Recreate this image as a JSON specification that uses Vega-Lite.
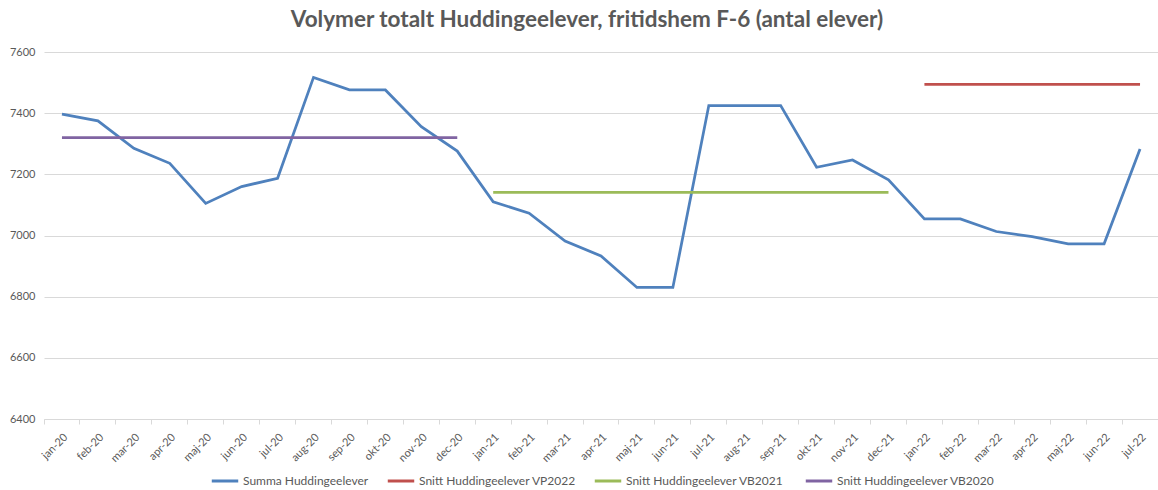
{
  "$schema": "https://vega.github.io/schema/vega-lite/v6.json",
  "width": 1114,
  "height": 367,
  "autosize": {"type": "none"},
  "padding": {"left": 44, "top": 52, "right": 0, "bottom": 71},
  "background": "white",
  "title": {"text": "Volymer totalt Huddingeelever, fritidshem F-6 (antal elever)", "font": "Lato", "fontSize": 22.5, "fontWeight": "bold", "color": "#595959", "offset": 15, "dx": -14},
  "data": {"values": [
    {"m": "jan-20", "s": "Summa Huddingeelever", "v": 7397},
    {"m": "feb-20", "s": "Summa Huddingeelever", "v": 7375},
    {"m": "mar-20", "s": "Summa Huddingeelever", "v": 7285},
    {"m": "apr-20", "s": "Summa Huddingeelever", "v": 7236},
    {"m": "maj-20", "s": "Summa Huddingeelever", "v": 7105},
    {"m": "jun-20", "s": "Summa Huddingeelever", "v": 7160},
    {"m": "jul-20", "s": "Summa Huddingeelever", "v": 7187},
    {"m": "aug-20", "s": "Summa Huddingeelever", "v": 7517},
    {"m": "sep-20", "s": "Summa Huddingeelever", "v": 7476},
    {"m": "okt-20", "s": "Summa Huddingeelever", "v": 7476},
    {"m": "nov-20", "s": "Summa Huddingeelever", "v": 7356},
    {"m": "dec-20", "s": "Summa Huddingeelever", "v": 7276},
    {"m": "jan-21", "s": "Summa Huddingeelever", "v": 7110},
    {"m": "feb-21", "s": "Summa Huddingeelever", "v": 7073},
    {"m": "mar-21", "s": "Summa Huddingeelever", "v": 6982},
    {"m": "apr-21", "s": "Summa Huddingeelever", "v": 6933},
    {"m": "maj-21", "s": "Summa Huddingeelever", "v": 6830},
    {"m": "jun-21", "s": "Summa Huddingeelever", "v": 6830},
    {"m": "jul-21", "s": "Summa Huddingeelever", "v": 7425},
    {"m": "aug-21", "s": "Summa Huddingeelever", "v": 7425},
    {"m": "sep-21", "s": "Summa Huddingeelever", "v": 7425},
    {"m": "okt-21", "s": "Summa Huddingeelever", "v": 7223},
    {"m": "nov-21", "s": "Summa Huddingeelever", "v": 7247},
    {"m": "dec-21", "s": "Summa Huddingeelever", "v": 7182},
    {"m": "jan-22", "s": "Summa Huddingeelever", "v": 7054},
    {"m": "feb-22", "s": "Summa Huddingeelever", "v": 7054},
    {"m": "mar-22", "s": "Summa Huddingeelever", "v": 7013},
    {"m": "apr-22", "s": "Summa Huddingeelever", "v": 6996},
    {"m": "maj-22", "s": "Summa Huddingeelever", "v": 6973},
    {"m": "jun-22", "s": "Summa Huddingeelever", "v": 6973},
    {"m": "jul-22", "s": "Summa Huddingeelever", "v": 7283},
    {"m": "jan-22", "s": "Snitt Huddingeelever VP2022", "v": 7494},
    {"m": "feb-22", "s": "Snitt Huddingeelever VP2022", "v": 7494},
    {"m": "mar-22", "s": "Snitt Huddingeelever VP2022", "v": 7494},
    {"m": "apr-22", "s": "Snitt Huddingeelever VP2022", "v": 7494},
    {"m": "maj-22", "s": "Snitt Huddingeelever VP2022", "v": 7494},
    {"m": "jun-22", "s": "Snitt Huddingeelever VP2022", "v": 7494},
    {"m": "jul-22", "s": "Snitt Huddingeelever VP2022", "v": 7494},
    {"m": "jan-21", "s": "Snitt  Huddingeelever VB2021", "v": 7141},
    {"m": "feb-21", "s": "Snitt  Huddingeelever VB2021", "v": 7141},
    {"m": "mar-21", "s": "Snitt  Huddingeelever VB2021", "v": 7141},
    {"m": "apr-21", "s": "Snitt  Huddingeelever VB2021", "v": 7141},
    {"m": "maj-21", "s": "Snitt  Huddingeelever VB2021", "v": 7141},
    {"m": "jun-21", "s": "Snitt  Huddingeelever VB2021", "v": 7141},
    {"m": "jul-21", "s": "Snitt  Huddingeelever VB2021", "v": 7141},
    {"m": "aug-21", "s": "Snitt  Huddingeelever VB2021", "v": 7141},
    {"m": "sep-21", "s": "Snitt  Huddingeelever VB2021", "v": 7141},
    {"m": "okt-21", "s": "Snitt  Huddingeelever VB2021", "v": 7141},
    {"m": "nov-21", "s": "Snitt  Huddingeelever VB2021", "v": 7141},
    {"m": "dec-21", "s": "Snitt  Huddingeelever VB2021", "v": 7141},
    {"m": "jan-20", "s": "Snitt Huddingeelever VB2020", "v": 7320},
    {"m": "feb-20", "s": "Snitt Huddingeelever VB2020", "v": 7320},
    {"m": "mar-20", "s": "Snitt Huddingeelever VB2020", "v": 7320},
    {"m": "apr-20", "s": "Snitt Huddingeelever VB2020", "v": 7320},
    {"m": "maj-20", "s": "Snitt Huddingeelever VB2020", "v": 7320},
    {"m": "jun-20", "s": "Snitt Huddingeelever VB2020", "v": 7320},
    {"m": "jul-20", "s": "Snitt Huddingeelever VB2020", "v": 7320},
    {"m": "aug-20", "s": "Snitt Huddingeelever VB2020", "v": 7320},
    {"m": "sep-20", "s": "Snitt Huddingeelever VB2020", "v": 7320},
    {"m": "okt-20", "s": "Snitt Huddingeelever VB2020", "v": 7320},
    {"m": "nov-20", "s": "Snitt Huddingeelever VB2020", "v": 7320},
    {"m": "dec-20", "s": "Snitt Huddingeelever VB2020", "v": 7320}
  ]},
  "mark": {"type": "line", "strokeWidth": 2.75},
  "encoding": {
    "x": {
      "field": "m", "type": "ordinal", "sort": null,
      "scale": {"type": "band", "paddingInner": 0, "paddingOuter": 0},
      "axis": {"title": null, "labelAngle": -45, "bandPosition": 0, "grid": false,
        "domainColor": "#D9D9D9", "tickColor": "#D9D9D9", "tickSize": 5, "labelPadding": 7,
        "labelFont": "Lato", "labelFontSize": 11, "labelColor": "#595959"}
    },
    "y": {
      "field": "v", "type": "quantitative",
      "scale": {"domain": [6400, 7600], "nice": false, "zero": false},
      "axis": {"title": null, "values": [6400, 6600, 6800, 7000, 7200, 7400, 7600], "format": "d", "domain": false, "ticks": false,
        "gridColor": "#D9D9D9", "labelPadding": 9, "labelFont": "Lato", "labelFontSize": 11, "labelColor": "#595959"}
    },
    "color": {
      "field": "s", "type": "nominal",
      "scale": {"domain": ["Summa Huddingeelever", "Snitt Huddingeelever VP2022", "Snitt  Huddingeelever VB2021", "Snitt Huddingeelever VB2020"],
        "range": ["#4F81BD", "#C0504D", "#9BBB59", "#8064A2"]},
      "legend": {"title": null, "orient": "none", "legendX": 166, "legendY": 414, "direction": "horizontal",
        "symbolType": "stroke", "symbolStrokeWidth": 3, "symbolSize": 700, "labelOffset": 3, "columnPadding": 12, "labelLimit": 400,
        "labelFont": "Lato", "labelFontSize": 12, "labelColor": "#595959"}
    }
  },
  "config": {"view": {"stroke": null}}
}
